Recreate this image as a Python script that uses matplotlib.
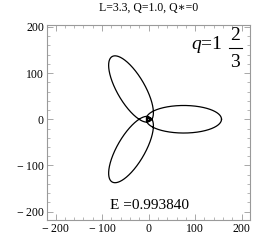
import numpy as np
import matplotlib
matplotlib.use("Agg")
import matplotlib.pyplot as plt
from matplotlib.ticker import FixedLocator, MultipleLocator

# ---- data ----
L_ang = 3.3          # angular momentum
Q_bh = 1.0           # black-hole charge
Q_star = 0.0         # particle charge
E_energy = 0.993840  # energy
q_whole, q_num, q_den = 1, 2, 3   # rational number q = 1 2/3
n_leaves = 3

title_text = "L=3.3, Q=1.0, Q\u2217=0"
energy_text = "E =0.993840"
tick_values = [-200, -100, 0, 100, 200]
tick_labels = ["\u2212\u2009200", "\u2212\u2009100", "0", "100", "200"]

# ---- orbit from the geodesic equation in u = 1/r ----
def dVdu(u):
    f = 1 - 2 * u + Q_bh**2 * u**2
    return (-2 + 2 * Q_bh**2 * u) * (1 + L_ang**2 * u**2) + f * 2 * L_ang**2 * u

coef = [L_ang**2 * Q_bh**2, -2 * L_ang**2, L_ang**2 + Q_bh**2, -2, 1 - E_energy**2]
roots = np.roots(coef)
roots = np.sort(roots[np.abs(roots.imag) < 1e-9].real)
u_apo = roots[roots > 0][0]

q_val = q_whole + q_num / q_den
phi_end = n_leaves * 2 * np.pi * (1 + q_val)
N = 120000
h = phi_end / N

def rhs(s):
    return np.array([s[1], -dVdu(s[0]) / (2 * L_ang**2)])

s = np.array([u_apo, 0.0])
us = np.empty(N + 1)
us[0] = u_apo
for i in range(N):
    k1 = rhs(s)
    k2 = rhs(s + 0.5 * h * k1)
    k3 = rhs(s + 0.5 * h * k2)
    k4 = rhs(s + h * k3)
    s = s + h / 6 * (k1 + 2 * k2 + 2 * k3 + k4)
    us[i + 1] = s[0]
phis = np.linspace(0, phi_end, N + 1)
rs = 1 / us
xs = rs * np.cos(phis)
ys = rs * np.sin(phis)

# ---- figure ----
plt.rcParams["font.family"] = ["Liberation Serif", "DejaVu Serif"]
plt.rcParams["mathtext.fontset"] = "custom"
plt.rcParams["mathtext.rm"] = "Liberation Serif"
plt.rcParams["mathtext.it"] = "Liberation Serif:italic"
fig = plt.figure(figsize=(2.66, 2.52), dpi=100)
ax = fig.add_axes([0.1756, 0.127, 0.7643, 0.7738])
ax.plot(xs, ys, color="black", lw=0.9)
ax.set_xlim(-219, 218)
ax.set_ylim(-218, 204)

frame_col = "#9a9a9a"
for sp in ax.spines.values():
    sp.set_color(frame_col)
    sp.set_linewidth(0.8)
for axis in (ax.xaxis, ax.yaxis):
    axis.set_major_locator(FixedLocator(tick_values))
    axis.set_minor_locator(MultipleLocator(20))
ax.set_xticklabels(tick_labels)
ax.set_yticklabels(tick_labels)
ax.tick_params(which="both", direction="in", top=True, right=True,
               color=frame_col, labelsize=8.5, labelcolor="black", pad=2)
ax.tick_params(which="major", length=4, width=0.6)
ax.tick_params(which="minor", length=2, width=0.5)

fig.text(0.557, 0.968, title_text, ha="center", va="center", fontsize=8.5)

ax.text(3, -186, energy_text, ha="center", va="center", fontsize=11)

ax.text(158, 152, r"$q$=1", ha="right", va="baseline", fontsize=14)
ax.text(186, 172, str(q_num), ha="center", va="baseline", fontsize=14)
ax.plot([172, 200], [155, 155], color="black", lw=0.8)
ax.text(186, 113, str(q_den), ha="center", va="baseline", fontsize=14)

fig.savefig("out.png", dpi=100)
